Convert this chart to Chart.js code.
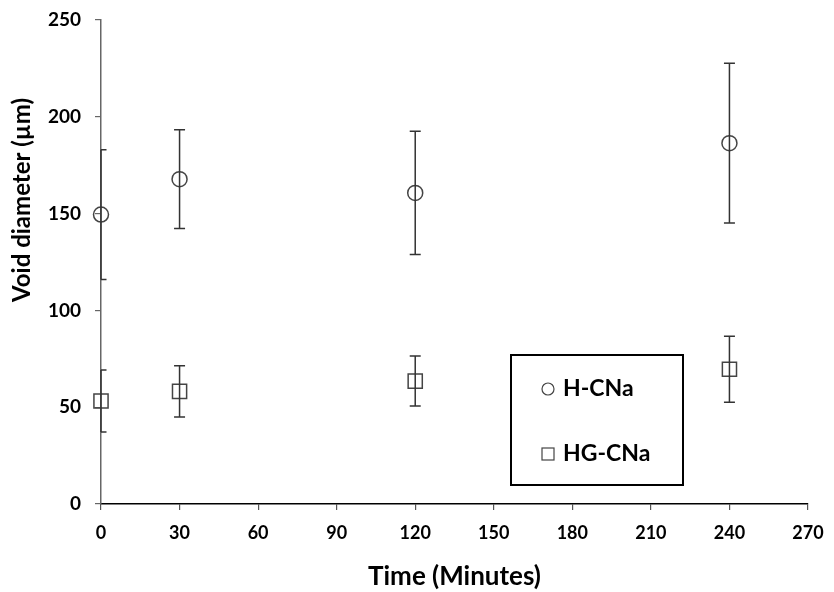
<!DOCTYPE html>
<html>
<head>
<meta charset="utf-8">
<script src="https://cdn.jsdelivr.net/npm/chart.js@4.4.1/dist/chart.umd.min.js"></script>
<style>
  html, body { margin: 0; padding: 0; background: #fff; }
  #wrap { width: 834px; height: 592px; }
</style>
</head>
<body>
<div id="wrap"><canvas id="void-chart"></canvas></div>
<script>
const times = [0, 30, 120, 240];
const hcna = [149.5, 167.8, 160.7, 186.4];
const hcnaErr = [33.5, 25.5, 31.8, 41.2];
const hgcna = [53.2, 58.2, 63.5, 69.6];
const hgcnaErr = [16, 13.2, 12.9, 17];
const xTicks = [0, 30, 60, 90, 120, 150, 180, 210, 240, 270];
const yTicks = [0, 50, 100, 150, 200, 250];

const FONT = "Lato, 'Open Sans', sans-serif";

// vertical error bars with caps, positioned through the chart scales
const errorBars = {
  id: "errorBars",
  afterDatasetsDraw(chart) {
    const ctx = chart.ctx;
    const xs = chart.scales.x, ys = chart.scales.y;
    ctx.save();
    ctx.strokeStyle = "#333";
    ctx.lineWidth = 1.5;
    chart.data.datasets.forEach(function(ds) {
      ds.data.forEach(function(p, i) {
        const e = ds.errors[i];
        const x = xs.getPixelForValue(p.x);
        const top = ys.getPixelForValue(p.y + e);
        const bot = ys.getPixelForValue(p.y - e);
        // on the y axis only the right half of the cap shows
        const left = p.x === xs.min ? x : x - 5.5;
        ctx.beginPath();
        ctx.moveTo(x, top); ctx.lineTo(x, bot);
        ctx.moveTo(left, top); ctx.lineTo(x + 5.5, top);
        ctx.moveTo(left, bot); ctx.lineTo(x + 5.5, bot);
        ctx.stroke();
      });
    });
    ctx.restore();
  }
};

// y title and boxed legend
const extras = {
  id: "extras",
  afterDraw(chart) {
    const ctx = chart.ctx;
    ctx.save();
    ctx.fillStyle = "#000";
    ctx.font = "bold 24px " + FONT;
    ctx.textAlign = "center";
    ctx.textBaseline = "middle";
    ctx.translate(22, 200);
    ctx.rotate(-Math.PI / 2);
    ctx.fillText("Void diameter (\u00b5m)", 0, 0);
    ctx.restore();

    ctx.save();
    ctx.strokeStyle = "#000";
    ctx.lineWidth = 2;
    ctx.fillStyle = "#fff";
    ctx.fillRect(511, 355, 172, 130);
    ctx.strokeRect(511, 355, 172, 130);
    ctx.lineWidth = 1.2;
    ctx.strokeStyle = "#444";
    ctx.beginPath();
    ctx.arc(548, 389, 6, 0, Math.PI * 2);
    ctx.stroke();
    ctx.strokeRect(542, 448, 12, 12);
    ctx.fillStyle = "#000";
    ctx.font = "bold 23px " + FONT;
    ctx.textAlign = "left";
    ctx.textBaseline = "middle";
    ctx.fillText("H-CNa", 563, 389);
    ctx.fillText("HG-CNa", 563, 454);
    ctx.restore();
  }
};

function points(vals) {
  return vals.map(function(v, i) { return { x: times[i], y: v }; });
}

new Chart(document.getElementById("void-chart"), {
  type: "scatter",
  data: {
    datasets: [{
      label: "H-CNa",
      data: points(hcna),
      errors: hcnaErr,
      pointStyle: "circle",
      pointRadius: 7.5,
      pointBorderWidth: 1.5,
      borderColor: "#444",
      backgroundColor: "rgba(0,0,0,0)",
      clip: false
    }, {
      label: "HG-CNa",
      data: points(hgcna),
      errors: hgcnaErr,
      pointStyle: "rect",
      pointRadius: 10,
      pointBorderWidth: 1.5,
      borderColor: "#444",
      backgroundColor: "rgba(0,0,0,0)",
      clip: false
    }]
  },
  options: {
    responsive: true,
    maintainAspectRatio: false,
    animation: false,
    layout: { padding: { left: 0, right: 26, top: 20, bottom: 0 } },
    plugins: {
      legend: { display: false },
      tooltip: { enabled: false }
    },
    scales: {
      x: {
        type: "linear",
        min: 0, max: 270,
        afterBuildTicks(scale) { scale.ticks = xTicks.map(function(v) { return { value: v }; }); },
        afterFit(scale) { scale.height = 88; scale.paddingLeft = 0; scale.paddingRight = 0; },
        border: { display: true, color: "#000", width: 1.5 },
        grid: { drawOnChartArea: false, drawTicks: true, tickLength: 6, color: "#555", lineWidth: 1.2 },
        ticks: { color: "#000", font: { family: FONT, size: 18, weight: "bold" }, padding: 12, maxRotation: 0 },
        title: { display: true, text: "Time (Minutes)", color: "#000", font: { family: FONT, size: 26, weight: "bold" }, padding: { top: 0, bottom: 0 } }
      },
      y: {
        min: 0, max: 250,
        afterBuildTicks(scale) { scale.ticks = yTicks.map(function(v) { return { value: v }; }); },
        afterFit(scale) { scale.width = 101; scale.paddingTop = 0; scale.paddingBottom = 0; },
        border: { display: true, color: "#666", width: 1.5 },
        grid: { drawOnChartArea: false, drawTicks: true, tickLength: 6, color: "#666", lineWidth: 1.2 },
        ticks: { color: "#000", font: { family: FONT, size: 19, weight: "bold" }, padding: 14 }
      }
    }
  },
  plugins: [errorBars, extras]
});
</script>
</body>
</html>
